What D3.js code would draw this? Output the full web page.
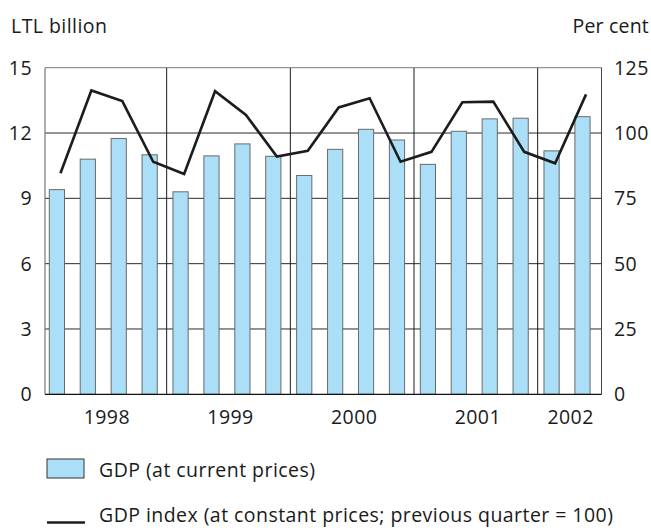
<!DOCTYPE html>
<html>
<head>
<meta charset="utf-8">
<script src="https://cdn.jsdelivr.net/npm/d3@7"></script>
<style>
  html, body { margin: 0; padding: 0; background: #fff; }
  svg text { font-family: "Open Sans", "Lato", sans-serif; fill: #1a1a1a; }
</style>
</head>
<body>
<svg id="chart" width="651" height="530"></svg>
<script>
// ---- data ----
const quarters = ["1998Q1","1998Q2","1998Q3","1998Q4","1999Q1","1999Q2","1999Q3","1999Q4",
                  "2000Q1","2000Q2","2000Q3","2000Q4","2001Q1","2001Q2","2001Q3","2001Q4",
                  "2002Q1","2002Q2"];
const gdpCurrent = [9.4, 10.8, 11.75, 11.0, 9.3, 10.95, 11.5, 10.93,
                    10.05, 11.25, 12.17, 11.68, 10.56, 12.08, 12.65, 12.68,
                    11.18, 12.75];
const gdpIndex = [84.6, 116.3, 112.2, 89.0, 84.3, 116.0, 106.9, 91.0,
                  93.2, 109.8, 113.3, 89.0, 92.8, 111.8, 112.0, 92.8,
                  88.4, 114.8];
const years = ["1998","1999","2000","2001","2002"];
const leftTicks = [0, 3, 6, 9, 12, 15];
const rightTicks = [0, 25, 50, 75, 100, 125];
const leftTitle = "LTL billion";
const rightTitle = "Per cent";
const legendLabels = ["GDP (at current prices)", "GDP index (at constant prices; previous quarter = 100)"];

// ---- layout ----
const svg = d3.select("#chart");
const L = 45, R = 601.5, T = 67.7, B = 394.3;

const x = d3.scaleBand().domain(quarters).range([L, R]).padding(0);
const yL = d3.scaleLinear().domain([0, 15]).range([B, T]);
const yR = d3.scaleLinear().domain([0, 125]).range([B, T]);
const step = x.step();
const barW = 15.2;
const barOff = 4.3;

// grid lines
svg.append("g").selectAll("line").data(leftTicks.filter(d => d > 0 && d < 15)).join("line")
  .attr("x1", L).attr("x2", R)
  .attr("y1", d => yL(d)).attr("y2", d => yL(d))
  .attr("stroke", "#2a2a2a").attr("stroke-width", 1);

// year separators
const sepIdx = [4, 8, 12, 16];
svg.append("g").selectAll("line").data(sepIdx).join("line")
  .attr("x1", i => x(quarters[i]) - 2).attr("x2", i => x(quarters[i]) - 2)
  .attr("y1", T).attr("y2", B)
  .attr("stroke", "#1a1a1a").attr("stroke-width", 1);

// frame
svg.append("line").attr("x1", L).attr("x2", R).attr("y1", T).attr("y2", T).attr("stroke", "#777").attr("stroke-width", 1);
svg.append("line").attr("x1", L).attr("x2", L).attr("y1", T).attr("y2", B).attr("stroke", "#777").attr("stroke-width", 1.2);
svg.append("line").attr("x1", R).attr("x2", R).attr("y1", T).attr("y2", B).attr("stroke", "#444").attr("stroke-width", 1);

// bars
svg.append("g").selectAll("rect").data(gdpCurrent).join("rect")
  .attr("x", (d, i) => x(quarters[i]) + barOff)
  .attr("width", barW)
  .attr("y", d => yL(d))
  .attr("height", d => B - yL(d))
  .attr("fill", "#aadff7")
  .attr("stroke", "#6a6a6a")
  .attr("stroke-width", 1);

// bottom axis line
svg.append("line").attr("x1", L).attr("x2", R).attr("y1", B).attr("y2", B).attr("stroke", "#111").attr("stroke-width", 1.2);

// index line
const line = d3.line()
  .x((d, i) => x(quarters[i]) + step / 2)
  .y(d => yR(d));
svg.append("path").datum(gdpIndex)
  .attr("d", line)
  .attr("fill", "none")
  .attr("stroke", "#1c1c1c")
  .attr("stroke-width", 2.6)
  .attr("stroke-linejoin", "miter");

// text styling
const fs = 19.5;
const ls = "0.45px";

// left axis labels
svg.append("g").selectAll("text").data(leftTicks).join("text")
  .attr("x", 32).attr("y", d => yL(d)).attr("dy", "0.36em")
  .attr("text-anchor", "end").attr("font-size", fs).attr("letter-spacing", ls)
  .text(d => d);

// right axis labels
svg.append("g").selectAll("text").data(rightTicks).join("text")
  .attr("x", 614).attr("y", d => yR(d)).attr("dy", "0.36em")
  .attr("text-anchor", "start").attr("font-size", fs).attr("letter-spacing", ls)
  .text(d => d);

// axis titles
svg.append("text").attr("x", 11).attr("y", 33).attr("font-size", fs).attr("letter-spacing", ls).text(leftTitle);
svg.append("text").attr("x", 649).attr("y", 33).attr("text-anchor", "end").attr("font-size", fs).attr("letter-spacing", "0.2px").text(rightTitle);

// year labels
const yearGroups = years.map(yr => quarters.filter(q => q.startsWith(yr)));
svg.append("g").selectAll("text").data(years).join("text")
  .attr("x", (yr, k) => {
    const g = yearGroups[k];
    return (x(g[0]) + x(g[g.length - 1]) + step) / 2;
  })
  .attr("y", 424)
  .attr("text-anchor", "middle").attr("font-size", fs).attr("letter-spacing", ls)
  .text(d => d);

// legend
svg.append("rect").attr("x", 47).attr("y", 459).attr("width", 37).attr("height", 19)
  .attr("fill", "#aadff7").attr("stroke", "#333").attr("stroke-width", 1);
svg.append("text").attr("x", 99).attr("y", 477).attr("font-size", fs).attr("letter-spacing", ls).text(legendLabels[0]);
svg.append("line").attr("x1", 47).attr("x2", 85).attr("y1", 522.5).attr("y2", 522.5)
  .attr("stroke", "#1c1c1c").attr("stroke-width", 2.6);
svg.append("text").attr("x", 99).attr("y", 522).attr("font-size", fs).attr("letter-spacing", ls).text(legendLabels[1]);
</script>
</body>
</html>
